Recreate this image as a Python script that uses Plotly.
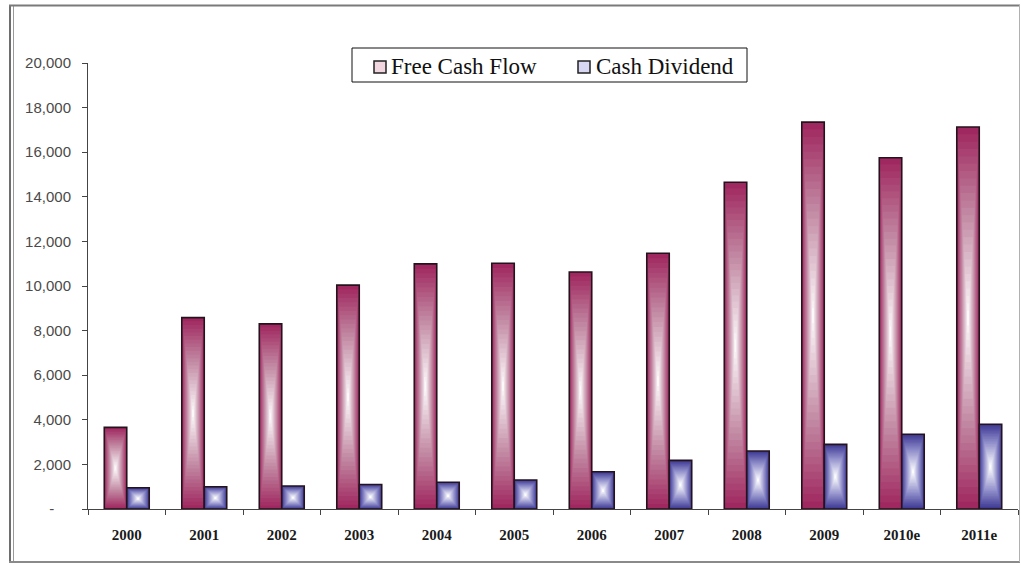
import plotly.graph_objects as go

# Annual figures (millions)
years = ["2000", "2001", "2002", "2003", "2004", "2005", "2006", "2007",
         "2008", "2009", "2010e", "2011e"]
free_cash_flow = [3660, 8580, 8300, 10040, 10990, 11020, 10630, 11470,
                  14650, 17350, 15750, 17130]
cash_dividend = [950, 1000, 1030, 1100, 1200, 1300, 1670, 2180,
                 2600, 2900, 3350, 3800]
series_names = ["Free Cash Flow", "Cash Dividend"]

y_ticks = list(range(0, 20001, 2000))
y_tick_text = ["-\u00a0\u00a0\u00a0\u00a0"] + [f"{v:,}" for v in y_ticks[1:]]

BAR_W = 0.29          # width of each bar in category units
LAYERS = 26           # concentric layers used to fake the "from centre" gradient


def ramp(stops, t):
    """Piecewise-linear colour interpolation over (pos, (r, g, b)) stops."""
    for (p0, c0), (p1, c1) in zip(stops, stops[1:]):
        if t <= p1:
            f = 0 if p1 == p0 else (t - p0) / (p1 - p0)
            rgb = [round(a + (b - a) * f) for a, b in zip(c0, c1)]
            return "rgb({},{},{})".format(*rgb)
    return "rgb({},{},{})".format(*stops[-1][1])


fcf_stops = [(0.0, (160, 40, 96)), (0.45, (194, 136, 162)), (1.0, (250, 248, 249))]
div_stops = [(0.0, (62, 58, 148)), (0.45, (148, 146, 204)), (1.0, (252, 252, 255))]

fig = go.Figure()


def gradient_bars(values, centre, stops):
    # inner layers: shrinking rectangles, colour moving toward white
    for k in range(LAYERS):
        s = 1 - k / LAYERS
        fig.add_trace(go.Bar(
            x=years,
            y=[v * s for v in values],
            base=[v * (1 - s) / 2 for v in values],
            width=BAR_W * s,
            offset=centre - BAR_W * s / 2,
            marker=dict(color=ramp(stops, k / (LAYERS - 1)), line=dict(width=0)),
            showlegend=False,
            hoverinfo="skip",
        ))
    # outline on top
    fig.add_trace(go.Bar(
        x=years, y=values, width=BAR_W, offset=centre - BAR_W / 2,
        marker=dict(color="rgba(0,0,0,0)", line=dict(color="#24131c", width=1.6)),
        showlegend=False, hoverinfo="skip",
    ))


gradient_bars(free_cash_flow, -BAR_W / 2, fcf_stops)
gradient_bars(cash_dividend, BAR_W / 2, div_stops)

# plot-area geometry in pixels, used to place the frame and the key
L, R, T, B = 88, 1018, 63, 509
PW, PH = R - L, B - T


def px(x):
    return (x - L) / PW


def py(y):
    return (B - y) / PH


frame = dict(xref="paper", yref="paper", type="line", layer="above")
shapes = [
    dict(frame, x0=px(10), x1=px(10), y0=py(5), y1=py(562), line=dict(color="#6e6e6e", width=2)),
    dict(frame, x0=px(13.5), x1=px(13.5), y0=py(5), y1=py(562), line=dict(color="#9a9a9a", width=1)),
    dict(frame, x0=px(9), x1=px(1020), y0=py(5.5), y1=py(5.5), line=dict(color="#7a7a7a", width=2)),
    dict(frame, x0=px(9), x1=px(1020), y0=py(562), y1=py(562), line=dict(color="#8a8a8a", width=2)),
    dict(frame, x0=px(1019.5), x1=px(1019.5), y0=py(5), y1=py(562), line=dict(color="#b0b0b0", width=1)),
]

# key: bordered box with a swatch and label per series
key_box = dict(type="rect", xref="paper", yref="paper", layer="above",
               x0=px(352), x1=px(747), y0=py(48), y1=py(82),
               fillcolor="white", line=dict(color="#111111", width=1))
shapes.append(key_box)
swatches = [("#f1d5df", 374), ("#d7d7f3", 578)]
labels_x = [390, 595]
annotations = []
for (fill, sx), lx, name in zip(swatches, labels_x, series_names):
    shapes.append(dict(type="rect", xref="paper", yref="paper", layer="above",
                       x0=px(sx), x1=px(sx + 12), y0=py(61), y1=py(73),
                       fillcolor=fill, line=dict(color="#222222", width=1.5)))
    annotations.append(dict(xref="paper", yref="paper", x=px(lx), y=py(66.5),
                            xanchor="left", yanchor="middle", showarrow=False,
                            text=name, borderpad=0,
                            font=dict(family="Liberation Serif", size=23, color="#111111")))

fig.update_layout(
    width=1021, height=566,
    margin=dict(l=L, r=1021 - R, t=T, b=566 - B),
    paper_bgcolor="white", plot_bgcolor="white",
    barmode="overlay",
    shapes=shapes,
    annotations=annotations,
    showlegend=False,
    xaxis=dict(
        type="category", range=[-0.5, 11.5],
        showline=True, linecolor="#444444", linewidth=1,
        ticks="outside", tickson="boundaries", ticklen=5, tickcolor="#444444",
        tickfont=dict(family="Liberation Serif", size=15, color="#1a1a1a", weight="bold"),
        ticklabelstandoff=12,
        showgrid=False, zeroline=False, fixedrange=True,
    ),
    yaxis=dict(
        range=[0, 20000], tickvals=y_ticks, ticktext=y_tick_text,
        showline=True, linecolor="#444444", linewidth=1,
        ticks="outside", ticklen=5, tickcolor="#444444",
        tickfont=dict(family="Liberation Sans", size=15, color="#4a4a4a"),
        ticklabelstandoff=8,
        showgrid=False, zeroline=False, fixedrange=True,
    ),
)

fig.write_html("out.html")
